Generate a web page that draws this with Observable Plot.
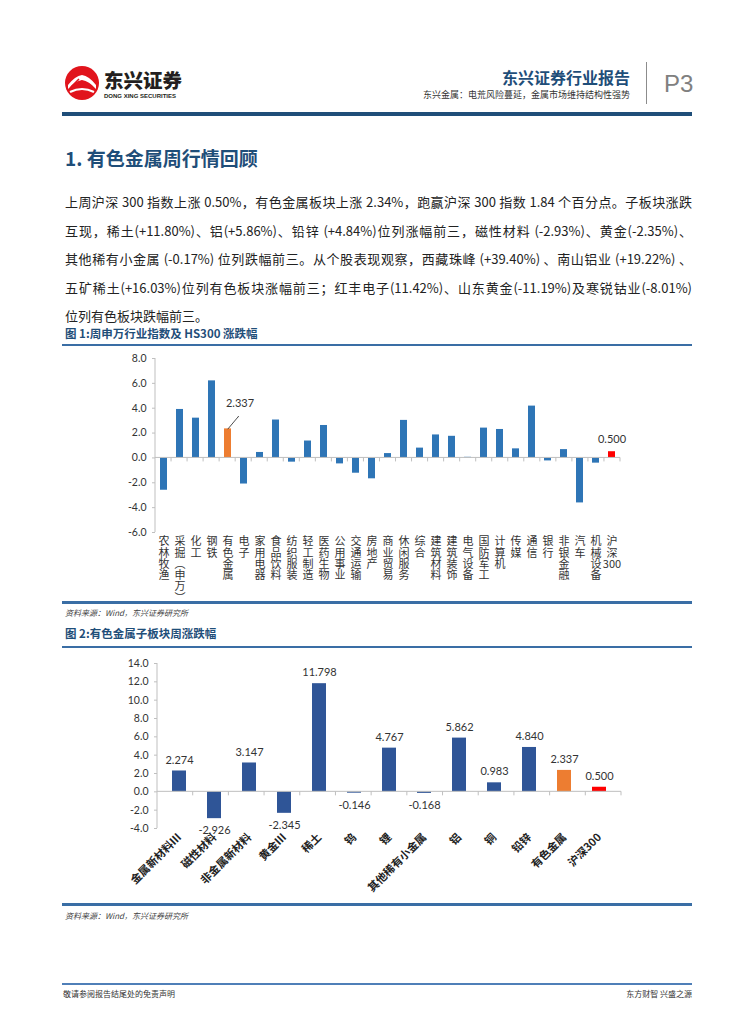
<!DOCTYPE html>
<html><head><meta charset="utf-8">
<script src="https://cdn.jsdelivr.net/npm/d3@7"></script>
<script src="https://cdn.jsdelivr.net/npm/@observablehq/plot@0.6"></script>
<style>
html,body{margin:0;padding:0;background:#fff}
body{width:755px;height:1024px;position:relative;overflow:hidden;font-family:"Noto Sans CJK SC","Noto Sans",sans-serif;color:#222}
.abs{position:absolute}
.para div{white-space:nowrap;text-align:justify;text-align-last:justify;height:28.5px;line-height:28.5px}
.para div.last{text-align-last:left}
.figtitle{font-size:11.5px;font-weight:700;color:#1f4e79;line-height:14px;white-space:nowrap}
.rule{background:#3a6ea5}
.src{font-size:8px;font-style:italic;color:#444;line-height:10px;white-space:nowrap}
</style></head><body>

<svg class="abs" style="left:62px;top:64px" width="130" height="40" viewBox="0 0 130 40">
  <circle cx="20" cy="19" r="17" fill="#e1141c"/>
  <path d="M6 21 Q13 12 20 11 Q27 12 34 21 L34 25 Q27 17 20 16 Q13 17 6 25 Z" fill="#fff"/>
  <path d="M9 23 L17 15 M13 24 L20 17 M17 25 L23 19" stroke="#e1141c" stroke-width="1.6"/>
  <path d="M8 28 Q20 22 32 28" stroke="#fff" stroke-width="2.2" fill="none"/>
  <text x="42" y="24" font-size="19.5" font-weight="900" fill="#231f20" font-family="Noto Sans CJK SC">东兴证券</text>
  <text x="42" y="34" font-size="6" font-weight="700" fill="#231f20" font-family="Liberation Sans" textLength="72" lengthAdjust="spacingAndGlyphs">DONG XING SECURITIES</text>
</svg>

<div class="abs" style="left:430px;top:66px;width:200px;text-align:right;font-size:16px;font-weight:700;color:#1f4e79;line-height:22px">东兴证券行业报告</div>
<div class="abs" style="left:380px;top:89px;width:250px;text-align:right;font-size:9px;color:#333;line-height:12px;white-space:nowrap">东兴金属：电荒风险蔓延，金属市场维持结构性强势</div>
<div class="abs" style="left:646px;top:62px;width:1px;height:42px;background:#8c8c8c"></div>
<div class="abs" style="left:664px;top:70px;font-size:24px;line-height:28px;color:#808080;font-family:'Liberation Sans',sans-serif">P3</div>
<div class="abs" style="left:62px;top:112px;width:630px;height:4px;background:#1f4e79"></div>

<div class="abs" style="left:65px;top:146px;font-size:19px;line-height:24px;font-weight:700;color:#1f4e79;white-space:nowrap">1. 有色金属周行情回顾</div>

<div class="abs para" id="para" style="left:65px;top:188px;width:627px;font-size:13px;color:#222">
<div><span>上周沪深 300 指数上涨 0.50%，有色金属板块上涨 2.34%，跑赢沪深 300 指数 1.84 个百分点。子板块涨跌</span></div>
<div><span>互现，稀土(+11.80%)、铝(+5.86%)、铅锌 (+4.84%)位列涨幅前三，磁性材料 (-2.93%)、黄金(-2.35%)、</span></div>
<div><span>其他稀有小金属 (-0.17%) 位列跌幅前三。从个股表现观察，西藏珠峰 (+39.40%) 、南山铝业 (+19.22%) 、</span></div>
<div><span>五矿稀土(+16.03%)位列有色板块涨幅前三；红丰电子(11.42%)、山东黄金(-11.19%)及寒锐钴业(-8.01%)</span></div>
<div class="last"><span>位列有色板块跌幅前三。</span></div>
</div>

<div class="abs figtitle" style="left:65px;top:326px">图 1:周申万行业指数及 HS300 涨跌幅</div>
<div class="abs rule" style="left:62px;top:344px;width:630px;height:2px"></div>
<div class="abs" id="chart1" style="left:62px;top:348px"></div>
<div class="abs rule" style="left:62px;top:601px;width:630px;height:2.5px"></div>
<div class="abs src" style="left:65px;top:608px">资料来源：Wind，东兴证券研究所</div>

<div class="abs figtitle" style="left:65px;top:626px">图 2:有色金属子板块周涨跌幅</div>
<div class="abs rule" style="left:62px;top:646px;width:630px;height:2px"></div>
<div class="abs" id="chart2" style="left:62px;top:652px"></div>
<div class="abs rule" style="left:62px;top:903px;width:630px;height:2.5px"></div>
<div class="abs src" style="left:65px;top:911px">资料来源：Wind，东兴证券研究所</div>

<div class="abs rule" style="left:62px;top:983px;width:630px;height:2px;background:#4f7fb8"></div>
<div class="abs" style="left:63px;top:989px;font-size:8px;line-height:10px;color:#333;white-space:nowrap">敬请参阅报告结尾处的免责声明</div>
<div class="abs" style="left:492px;top:989px;width:200px;text-align:right;font-size:8px;line-height:10px;color:#333;white-space:nowrap">东方财智 兴盛之源</div>

<script>
// fit paragraph lines into the 627px text column (uniform font size)
function fitParagraph() {
  const para = document.getElementById("para");
  const spans = [...para.querySelectorAll("div > span")];
  const limit = 627;
  // measure natural widths with justification switched off
  para.querySelectorAll("div").forEach(d => d.style.textAlignLast = "left");
  let size = 13;
  para.style.fontSize = size + "px";
  const widest = () => Math.max(...spans.map(s => s.getBoundingClientRect().width));
  while (widest() > limit - 1 && size > 11) { size -= 0.1; para.style.fontSize = size.toFixed(2) + "px"; }
  para.querySelectorAll("div").forEach(d => d.style.textAlignLast = "");
}
fitParagraph();
if (document.fonts && document.fonts.ready) document.fonts.ready.then(fitParagraph);

// ---------- data ----------
const industries = ["农林牧渔","采掘(申万)","化工","钢铁","有色金属","电子","家用电器","食品饮料","纺织服装","轻工制造","医药生物","公用事业","交通运输","房地产","商业贸易","休闲服务","综合","建筑材料","建筑装饰","电气设备","国防军工","计算机","传媒","通信","银行","非银金融","汽车","机械设备","沪深300"];
const industryChanges = [-2.60, 3.90, 3.20, 6.20, 2.337, -2.10, 0.44, 3.05, -0.34, 1.36, 2.61, -0.48, -1.23, -1.68, 0.35, 3.02, 0.79, 1.85, 1.74, 0.05, 2.40, 2.29, 0.73, 4.17, -0.24, 0.67, -3.62, -0.42, 0.500];
const industryTicks = [-6, -4, -2, 0, 2, 4, 6, 8];

const subsectors = ["金属新材料Ⅲ","磁性材料","非金属新材料","黄金Ⅲ","稀土","钨","锂","其他稀有小金属","铝","铜","铅锌","有色金属","沪深300"];
const subsectorChanges = [2.274, -2.926, 3.147, -2.345, 11.798, -0.146, 4.767, -0.168, 5.862, 0.983, 4.840, 2.337, 0.500];
const subsectorTicks = [-4, -2, 0, 2, 4, 6, 8, 10, 12, 14];

// ---------- styling helpers ----------
const BLUE1 = "#2e75b6", BLUE2 = "#2f5597", ORANGE = "#ed7d31", RED = "#ff0000";
const AXIS = "#bfbfbf", TXT = "#333";
const colorFor = (name, base) => name === "有色金属" ? ORANGE : name === "沪深300" ? RED : base;
const fmt1 = d => d.toFixed(1);
// vertical (stacked) category label: one CJK glyph per line, ASCII runs kept together
const stackLabel = s => (s.match(/[0-9A-Za-z.]+|./g) || [])
  .map(c => c === "(" ? "︵" : c === ")" ? "︶" : c).join("\n");

function axisLines(categories) {
  return (index, scales, values, dims) => {
    const {y} = scales;
    const x0 = dims.marginLeft, x1 = dims.width - dims.marginRight;
    const yTop = dims.marginTop, yBot = dims.height - dims.marginBottom;
    const y0 = y(0);
    const g = d3.create("svg:g").attr("stroke", AXIS).attr("stroke-width", 1).attr("fill", "none");
    g.append("line").attr("x1", x0).attr("x2", x0).attr("y1", yTop).attr("y2", yBot);
    g.append("line").attr("x1", x0).attr("x2", x1).attr("y1", y0).attr("y2", y0);
    const step = (x1 - x0) / categories.length;
    for (let i = 1; i <= categories.length; ++i) {
      const xx = x0 + i * step;
      g.append("line").attr("x1", xx).attr("x2", xx).attr("y1", y0).attr("y2", y0 + 4);
    }
    return g.node();
  };
}

// ---------- chart 1 ----------
const data1 = industries.map((name, i) => ({name, value: industryChanges[i]}));
const chart1 = Plot.plot({
  width: 630, height: 252,
  marginTop: 10, marginBottom: 68, marginLeft: 93, marginRight: 72,
  style: {fontFamily: "Lato, 'Noto Sans CJK SC', sans-serif", fontSize: "10.5px", color: TXT, background: "transparent", overflow: "visible"},
  x: {type: "band", domain: industries, paddingInner: 0.56, paddingOuter: 0.28},
  y: {domain: [-6, 8], nice: false},
  color: {type: "identity"},
  marks: [
    Plot.barY(data1, {x: "name", y: "value", fill: d => colorFor(d.name, BLUE1)}),
    axisLines(industries),
    Plot.axisY({ticks: industryTicks, tickFormat: fmt1, tickSize: 3, tickPadding: 6, stroke: AXIS, fill: TXT, fontSize: 10.5, label: null}),
    Plot.axisX({anchor: "bottom", tickSize: 0, tickPadding: 5, tickFormat: stackLabel, lineHeight: 1.02, textAnchor: "middle", lineAnchor: "top", fontSize: 11, fill: TXT, label: null, fontFamily: "'Noto Sans CJK SC', sans-serif"}),
    Plot.vector(data1.filter(d => d.name === "有色金属"), {x: "name", y: "value", anchor: "start", rotate: 40, length: 16, r: 0, stroke: TXT, strokeWidth: 0.8}),
    Plot.text(data1.filter(d => d.name === "有色金属"), {x: "name", y: "value", text: d => d.value.toFixed(3), fill: TXT, fontSize: 11, dx: 12, dy: -25}),
    Plot.text(data1.filter(d => d.name === "沪深300"), {x: "name", y: "value", text: d => d.value.toFixed(3), fill: TXT, fontSize: 11, dy: -12})
  ]
});
document.getElementById("chart1").appendChild(chart1);

// ---------- chart 2 ----------
const data2 = subsectors.map((name, i) => ({name, value: subsectorChanges[i]}));
const chart2 = Plot.plot({
  width: 630, height: 248,
  marginTop: 11, marginBottom: 72, marginLeft: 95, marginRight: 71,
  style: {fontFamily: "Lato, 'Noto Sans CJK SC', sans-serif", fontSize: "10.5px", color: TXT, background: "transparent", overflow: "visible"},
  x: {type: "band", domain: subsectors, paddingInner: 0.6, paddingOuter: 0.3},
  y: {domain: [-4, 14], nice: false},
  color: {type: "identity"},
  marks: [
    Plot.barY(data2, {x: "name", y: "value", fill: d => colorFor(d.name, BLUE2)}),
    axisLines(subsectors),
    Plot.axisY({ticks: subsectorTicks, tickFormat: fmt1, tickSize: 3, tickPadding: 6, stroke: AXIS, fill: TXT, fontSize: 10.5, label: null}),
    Plot.axisX({anchor: "bottom", tickSize: 0, tickPadding: 7, tickRotate: -45, textAnchor: "end", fontSize: 11, fontWeight: 700, fill: "#222", label: null, fontFamily: "'Noto Sans CJK SC', sans-serif"}),
    Plot.text(data2.filter(d => d.value >= 0), {x: "name", y: "value", text: d => d.value.toFixed(3), fill: TXT, fontSize: 11, dy: -11}),
    Plot.text(data2.filter(d => d.value < 0), {x: "name", y: "value", text: d => d.value.toFixed(3), fill: TXT, fontSize: 11, dy: 12})
  ]
});
document.getElementById("chart2").appendChild(chart2);
</script>
</body></html>
